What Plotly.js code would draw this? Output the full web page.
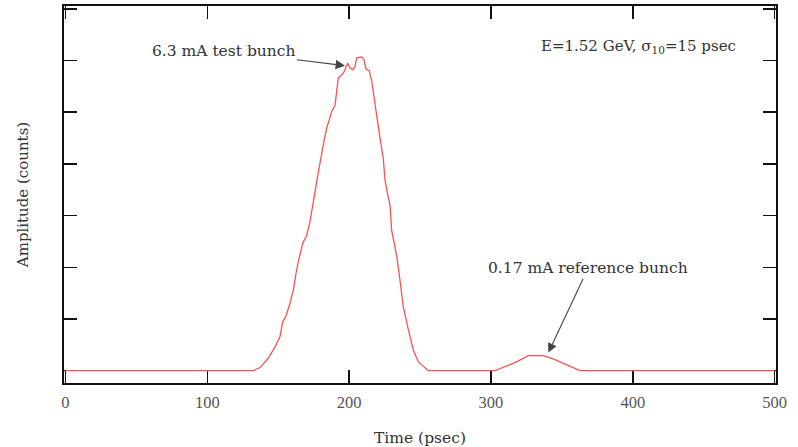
<!DOCTYPE html>
<html>
<head>
<meta charset="utf-8">
<script src="https://cdn.plot.ly/plotly-3.0.1.min.js"></script>
<style>html,body{margin:0;padding:0;background:#fff;}#chart{width:798px;height:447px;}</style>
</head>
<body>
<div id="chart"></div>
<script>
// Time (psec) and amplitude (counts, arbitrary units)
const timePs = [0, 132.5, 137.2, 143.0, 147.8, 151.3, 153.2, 155.3, 158.3, 160.7, 162.6, 164.2, 167.3, 170.1, 172.4, 174.8, 177.2, 181.8, 184.2, 187.7, 190.1, 192.4, 194.3, 195.9, 197.1, 199.0, 200.6, 202.6, 204.2, 205.4, 208.9, 210.5, 211.9, 214.3, 216.0, 218.3, 221.8, 224.1, 225.3, 226.8, 228.9, 230.0, 233.6, 235.9, 238.2, 241.8, 245.3, 248.8, 255.9, 302.9, 309.9, 318.2, 326.4, 336.9, 342.9, 348.7, 355.8, 362.8, 500];
const amplitude = [0, 0, 0.06, 0.24, 0.46, 0.66, 0.95, 1.04, 1.30, 1.56, 1.88, 2.11, 2.46, 2.62, 2.88, 3.30, 3.66, 4.37, 4.69, 5.01, 5.14, 5.66, 5.72, 5.75, 5.82, 5.95, 5.86, 5.82, 5.88, 6.05, 6.07, 6.01, 5.84, 5.80, 5.59, 5.14, 4.50, 4.11, 3.69, 3.47, 3.20, 2.72, 2.21, 1.75, 1.24, 0.79, 0.40, 0.17, 0, 0, 0.08, 0.17, 0.29, 0.29, 0.24, 0.17, 0.08, 0, 0];

const xTicks = [0, 100, 200, 300, 400, 500];
const yTicks = [0, 1, 2, 3, 4, 5, 6, 7];

const labelTest = "6.3 mA test bunch";
const labelRef = "0.17 mA reference bunch";
const labelInfo = "E=1.52 GeV, σ<sub>10</sub>=15 psec";

const serif = "DejaVu Serif, serif";
const tickSerif = "Liberation Serif, Times New Roman, serif";

const trace = {
  x: timePs, y: amplitude, type: "scatter", mode: "lines",
  line: {color: "#ff5050", width: 1.3}, hoverinfo: "skip"
};

const layout = {
  width: 798, height: 447,
  margin: {l: 64, r: 22, t: 6, b: 64},
  paper_bgcolor: "#fff", plot_bgcolor: "#fff",
  showlegend: false,
  font: {family: serif, color: "#333", size: 15.5},
  xaxis: {
    range: [-1, 501], tickvals: xTicks, ticktext: xTicks.map(String),
    ticks: "inside", ticklen: 13, tickwidth: 1.5, tickcolor: "#111",
    showline: true, linecolor: "#111", linewidth: 1.8, mirror: "ticks",
    showgrid: false, zeroline: false, layer: "below traces",
    ticklabelstandoff: 3,
    tickfont: {family: tickSerif, size: 16.5, color: "#555"},
    title: {text: "Time (psec)", font: {family: serif, size: 15.5, color: "#333"}, standoff: 24}
  },
  yaxis: {
    range: [-0.238, 7.054], tickvals: yTicks, showticklabels: false,
    ticks: "inside", ticklen: 13, tickwidth: 1.5, tickcolor: "#111",
    showline: true, linecolor: "#111", linewidth: 1.8, mirror: "ticks",
    showgrid: false, zeroline: false, layer: "below traces",
    title: {text: "Amplitude (counts)", font: {family: serif, size: 15, color: "#333"}, standoff: 30}
  },
  annotations: [
    {x: 197.1, y: 5.90, ax: 111.8, ay: 6.19, xref: "x", yref: "y", axref: "x", ayref: "y",
     text: labelTest, showarrow: true, arrowhead: 2, arrowsize: 1.7, arrowwidth: 1.1, arrowcolor: "#444",
     font: {family: serif, size: 15.5, color: "#333"}},
    {x: 340.5, y: 0.35, ax: 368.5, ay: 1.98, xref: "x", yref: "y", axref: "x", ayref: "y",
     text: labelRef, showarrow: true, arrowhead: 2, arrowsize: 1.7, arrowwidth: 1.1, arrowcolor: "#444",
     font: {family: serif, size: 15.5, color: "#333"}},
    {x: 474.2, y: 6.27, xref: "x", yref: "y", text: labelInfo, showarrow: false, xanchor: "right",
     font: {family: serif, size: 15, color: "#333"}}
  ]
};

Plotly.newPlot("chart", [trace], layout, {staticPlot: true, displayModeBar: false});
</script>
</body>
</html>
